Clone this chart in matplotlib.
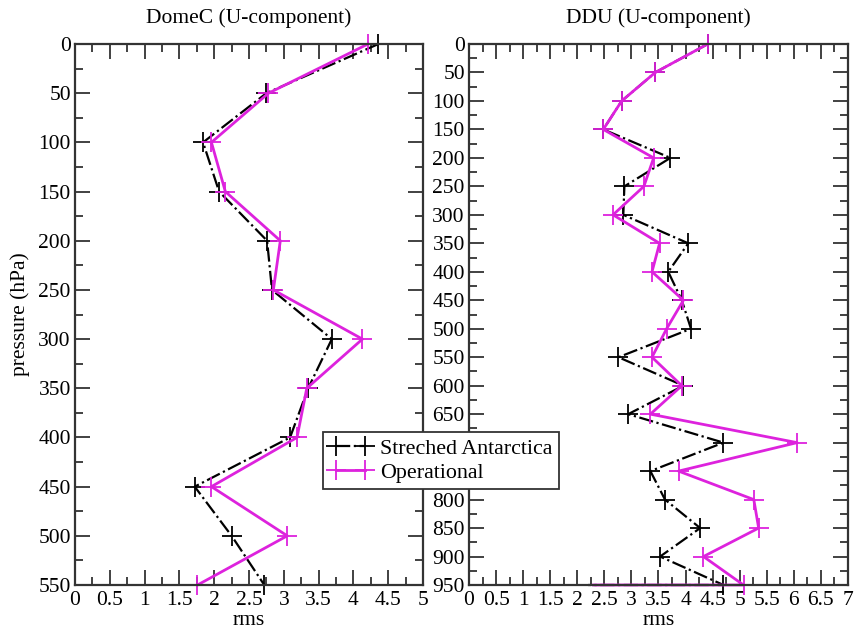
import matplotlib
matplotlib.use("Agg")
import matplotlib.pyplot as plt
from matplotlib.ticker import MultipleLocator, FuncFormatter

plt.rcParams['font.family'] = ['Liberation Serif', 'DejaVu Serif']

# DomeC data
domec_p = [0, 50, 100, 150, 200, 250, 300, 350, 400, 450, 500, 550]
domec_oper = [4.21, 2.78, 1.96, 2.16, 2.95, 2.85, 4.13, 3.33, 3.19, 1.96, 3.05, 1.76]
domec_stretch = [4.36, 2.75, 1.84, 2.07, 2.76, 2.83, 3.69, 3.35, 3.09, 1.72, 2.25, 2.72]

# DDU data
ddu_p = [0, 50, 100, 150, 200, 250, 300, 350, 400, 450, 500, 550, 600, 650,
         700, 750, 800, 850, 900, 950, 950]
ddu_oper = [4.41, 3.44, 2.82, 2.48, 3.41, 3.23, 2.66, 3.52, 3.38, 3.96, 3.65,
            3.38, 3.93, 3.35, 6.06, 3.87, 5.26, 5.35, 4.33, 5.07, 2.30]
ddu_stretch = [4.41, 3.44, 2.82, 2.48, 3.72, 2.87, 2.85, 4.05, 3.68, 3.93, 4.10,
               2.76, 3.96, 2.94, 4.70, 3.35, 3.62, 4.27, 3.53, 4.70, 2.20]

titles = ["DomeC (U-component)", "DDU (U-component)"]
series_labels = ["Streched Antarctica", "Operational"]
hidden_ddu_labels = [700, 750]  # covered by the legend in the reference

MAG = '#dd22dd'
W, H = 856, 631
fig = plt.figure(figsize=(W / 100, H / 100), dpi=100)

def rect(l, r, t, b):
    return [l / W, 1 - b / H, (r - l) / W, (b - t) / H]

ax1 = fig.add_axes(rect(75, 423, 44, 585))
ax2 = fig.add_axes(rect(469, 848, 44, 585))

FS = 15.5

def style(ax, xmax, ymax, xmajor, xminor):
    ax.set_xlim(0, xmax)
    ax.set_ylim(ymax, 0)
    ax.xaxis.set_major_locator(MultipleLocator(xmajor))
    ax.xaxis.set_minor_locator(MultipleLocator(xminor))
    ax.yaxis.set_major_locator(MultipleLocator(50))
    ax.yaxis.set_minor_locator(MultipleLocator(25))
    ax.tick_params(which='both', direction='in', top=True, right=True,
                   width=1.3, color='#333333', labelsize=FS)
    ax.tick_params(which='major', length=11)
    ax.tick_params(which='minor', length=6)
    ax.tick_params(axis='x', pad=4)
    ax.tick_params(axis='y', pad=3)
    for s in ax.spines.values():
        s.set_linewidth(1.6)
        s.set_color('#333333')
    ax.xaxis.set_major_formatter(FuncFormatter(lambda v, p: ('%g' % v)))
    ax.set_xlabel('rms', fontsize=FS, labelpad=1)

line_kw = dict(marker='+', markersize=15, markeredgewidth=1.3, clip_on=False)

h_s, = ax1.plot(domec_stretch, domec_p, color='black', linestyle='-.',
                linewidth=1.6, **line_kw)
h_o, = ax1.plot(domec_oper, domec_p, color=MAG, linestyle='-',
                linewidth=2.0, **line_kw)
style(ax1, 5, 550, 0.5, 0.25)
ax1.set_title(titles[0], fontsize=FS, pad=15)
ax1.set_ylabel('pressure (hPa)', fontsize=FS, labelpad=6)

n = len(ddu_p)
ax2.plot(ddu_stretch, ddu_p, color='black', linestyle='-.',
         linewidth=1.6, markevery=list(range(n - 1)), **line_kw)
ax2.plot(ddu_oper, ddu_p, color=MAG, linestyle='-',
         linewidth=2.0, markevery=list(range(n - 1)), **line_kw)
style(ax2, 7, 950, 0.5, 0.25)
ax2.yaxis.set_major_formatter(FuncFormatter(
    lambda v, p: '' if round(v) in hidden_ddu_labels else '%g' % v))
ax2.set_title(titles[1], fontsize=FS, pad=15)

leg = fig.legend([h_s, h_o], series_labels, loc='upper left',
                 bbox_to_anchor=(323 / W, 1 - 432 / H), numpoints=2,
                 fontsize=15.8, frameon=True, fancybox=False, framealpha=1,
                 edgecolor='#333333', borderpad=0.3, handlelength=1.9,
                 handletextpad=0.4, labelspacing=0.15, borderaxespad=0)
leg.get_frame().set_linewidth(1.3)

fig.savefig('out.png', dpi=100)
